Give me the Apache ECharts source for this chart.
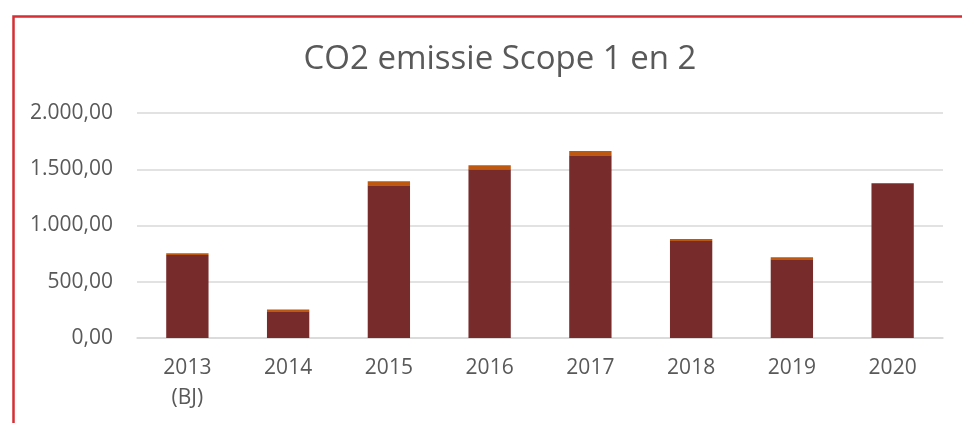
<!DOCTYPE html>
<html><head><meta charset="utf-8">
<script src="https://cdn.jsdelivr.net/npm/echarts@6/dist/echarts.min.js"></script>
<style>html,body{margin:0;padding:0;background:#fff;}#c{width:962px;height:423px;}</style>
</head><body><div id="c"></div>
<script>
const categories = ['2013\n(BJ)', '2014', '2015', '2016', '2017', '2018', '2019', '2020'];
const scope1 = [737, 238, 1357, 1500, 1624, 862, 700, 1375];
const scope2 = [16, 15, 36, 35, 38, 18, 17, 0];
const yTicks = [0, 500, 1000, 1500, 2000];

const fmt = v => {
  const s = v.toFixed(2).split('.');
  return s[0].replace(/\B(?=(\d{3})+(?!\d))/g, '.') + ',' + s[1];
};
const font = 'Open Sans';
const chart = echarts.init(document.getElementById('c'));
chart.setOption({
  animation: false,
  backgroundColor: '#fff',
  graphic: [{
    type: 'rect', left: 11, top: 14, z: 100,
    shape: { width: 1000, height: 500 },
    style: { fill: 'none', stroke: '#D32F35', lineWidth: 2.5 }
  }],
  title: {
    text: 'CO2 emissie Scope 1 en 2', left: 495, top: 38, textAlign: 'center',
    textStyle: { fontFamily: font, fontSize: 33, fontWeight: 'normal', color: '#595959' }
  },
  grid: { left: 137, right: 19, top: 113, bottom: 85 },
  xAxis: {
    type: 'category', data: categories,
    axisLine: { lineStyle: { color: '#D9D9D9', width: 1.5 } },
    axisTick: { show: false },
    axisLabel: { fontFamily: font, fontSize: 21, color: '#595959', margin: 15, lineHeight: 30 }
  },
  yAxis: {
    type: 'value', min: yTicks[0], max: yTicks[yTicks.length - 1], interval: 500,
    axisLine: { show: false }, axisTick: { show: false },
    splitLine: { lineStyle: { color: '#D9D9D9', width: 1.5 } },
    axisLabel: { fontFamily: font, fontSize: 21, color: '#595959', margin: 24, formatter: fmt }
  },
  series: [
    { name: 'Scope 1', type: 'bar', stack: 't', data: scope1, barWidth: '42%',
      itemStyle: { color: '#772B2B' } },
    { name: 'Scope 2', type: 'bar', stack: 't', data: scope2, barWidth: '42%',
      itemStyle: { color: '#BE5710' } }
  ]
});
</script></body></html>
